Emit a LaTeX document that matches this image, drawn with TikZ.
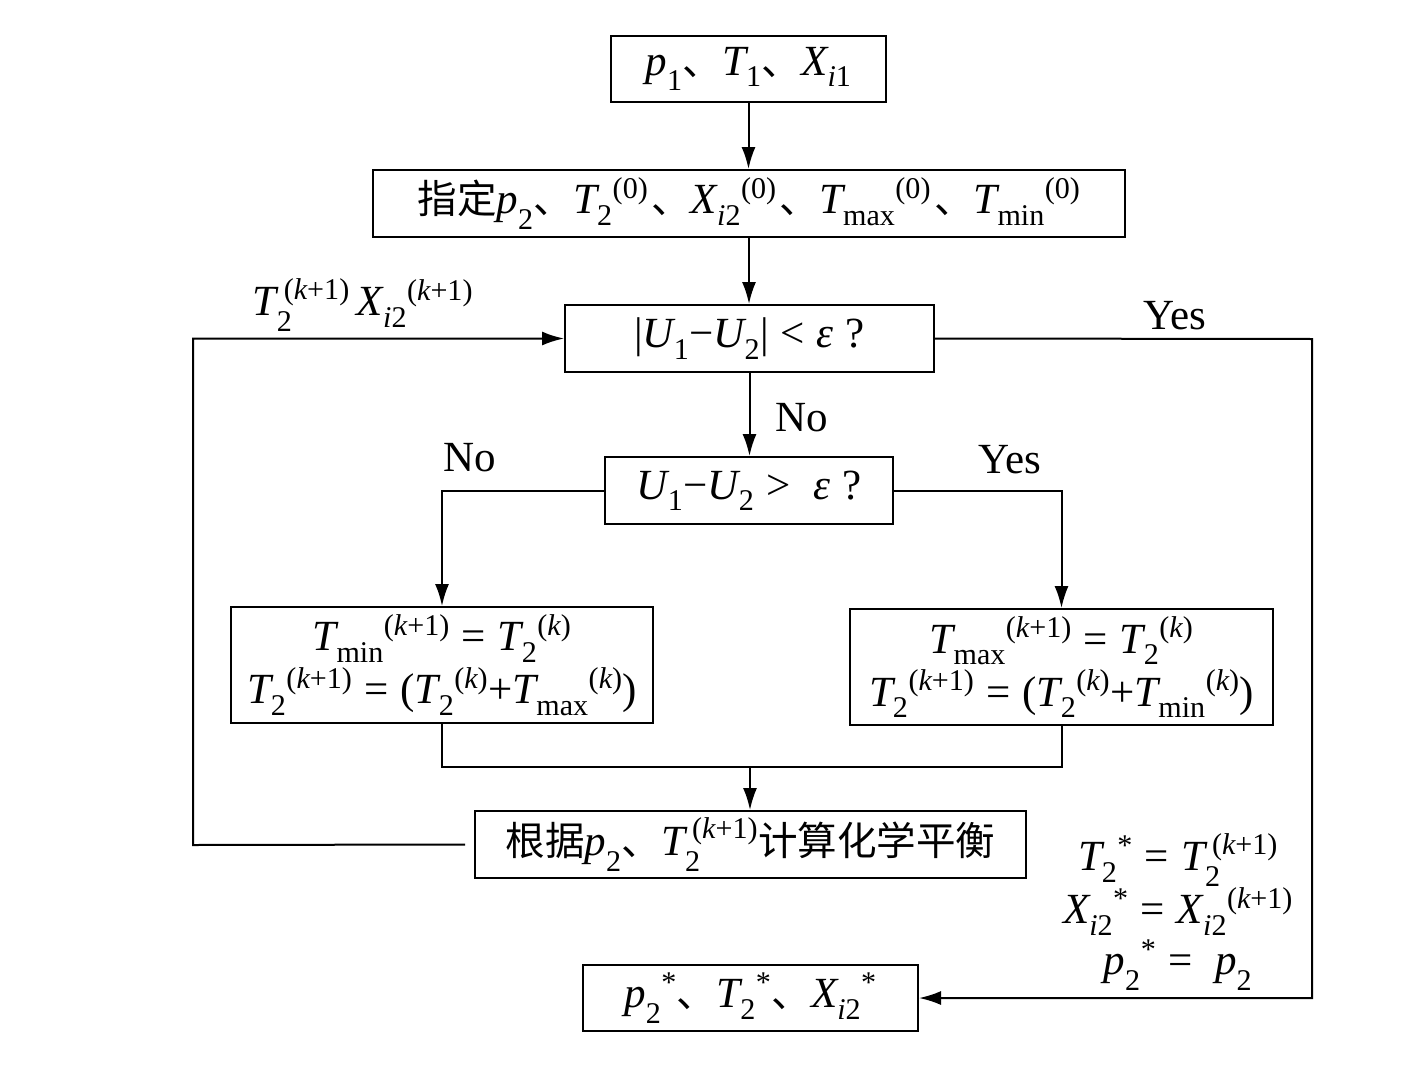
\RequirePackage{fix-cm}
\documentclass[tikz,border=0pt]{standalone}
\usepackage{amsmath}
\usepackage{fontspec}
\setmainfont{Liberation Serif}
\newfontfamily\cjk[Scale=0.92]{Noto Sans CJK SC}
\usetikzlibrary{arrows.meta}
\newcommand\vI[1]{\text{\itshape #1}}
\newcommand\vR[1]{\text{\upshape #1}}
\newcommand\SB[1]{_{\text{\raisebox{-5pt}{\upshape #1}}}}
\newcommand\kp{\vR{(}\vI{k}\vR{+1)}}
\newcommand\kk{\vR{(}\vI{k}\vR{)}}
\newcommand\dun{{\cjk 、}}
\newcommand\eq{\mathrel{\vR{=}}}
\newcommand\pl{\vR{+}}
\newcommand\mi{\vR{−}}
\newcommand\sk{\hspace{7pt}}
\begin{document}
\begin{tikzpicture}[x=1pt,y=-1pt,
  box/.style={draw,line width=2pt,inner sep=0pt,align=center,font=\fontsize{43}{53}\selectfont},
  conn/.style={line width=2pt},
  arr/.style={conn,-{Latex[length=22pt,width=14pt]}},
  lbl/.style={inner sep=0pt,align=center,font=\fontsize{43}{51}\selectfont}]
\useasboundingbox (0,0) rectangle (1426,1070);
\node[box,minimum width=275pt,minimum height=66pt] (n1) at (748.5,69)
  {$\vI{p}\SB{1}$\dun$\vI{T}\SB{1}$\dun$\vI{X}\SB{\textit{i}1}$};
\node[box,minimum width=752pt,minimum height=67pt] (n2) at (749,203.5)
  {{\cjk 指定}$\vI{p}\SB{2}$\dun$\vI{T}\SB{2}{}^{\vR{(0)}}$\hspace{3pt}\dun$\vI{X}\SB{\textit{i}2}{}^{\vR{(0)}}$\hspace{3pt}\dun$\vI{T}\SB{max}{}^{\vR{(0)}}$\hspace{3pt}\dun$\vI{T}\SB{min}{}^{\vR{(0)}}$};
\node[box,minimum width=369pt,minimum height=67pt] (n3) at (749.5,338.5)
  {$\vR{|}\vI{U}\SB{1}\mi\vI{U}\SB{2}\vR{|}\mathrel{\vR{<}}\vI{ε}\;\vR{?}$};
\node[box,minimum width=288pt,minimum height=67pt] (n4) at (749,490.5)
  {$\vI{U}\SB{1}\mi\vI{U}\SB{2}\mathrel{\vR{>}}\ \vI{ε}\;\vR{?}$};
\node[box,minimum width=422pt,minimum height=116pt] (n5) at (442,665)
  {$\vI{T}\SB{min}{}^{\kp}\eq\vI{T}\SB{2}{}^{\kk}$\\
   $\vI{T}\SB{2}{}^{\kp}\eq\vR{(}\vI{T}\SB{2}{}^{\kk}\pl\vI{T}\SB{max}{}^{\kk}\vR{)}$};
\node[box,minimum width=423pt,minimum height=116pt] (n6) at (1061.5,667)
  {$\vI{T}\SB{max}{}^{\kp}\eq\vI{T}\SB{2}{}^{\kk}$\\
   $\vI{T}\SB{2}{}^{\kp}\eq\vR{(}\vI{T}\SB{2}{}^{\kk}\pl\vI{T}\SB{min}{}^{\kk}\vR{)}$};
\node[box,minimum width=551pt,minimum height=67pt] (n7) at (750.5,844.5)
  {{\cjk 根据}$\vI{p}\SB{2}$\dun$\vI{T}\SB{2}^{\sk\kp}${\cjk 计算化学平衡}};
\node[box,minimum width=335pt,minimum height=66pt] (n8) at (750.5,998)
  {$\vI{p}\SB{2}{}^{\vR{*}}$\dun$\vI{T}\SB{2}{}^{\vR{*}}$\dun$\vI{X}\SB{\textit{i}2}{}^{\vR{*}}$};
% labels
\node[lbl] (lno1) at (802,418) {No};
\node[lbl] (lno2) at (470,458) {No};
\node[lbl] (lyes1) at (1010,460) {Yes};
\node[lbl] (lyes2) at (1175,316) {Yes};
\node[lbl] (lfb) at (363,305) {$\vI{T}\SB{2}^{\sk\kp}\,\vI{X}\SB{\textit{i}2}{}^{\kp}$};
\node[lbl] (lres) at (1178,912)
  {$\vI{T}\SB{2}{}^{\vR{*}}\eq\vI{T}\SB{2}^{\sk\kp}$\\
   $\vI{X}\SB{\textit{i}2}{}^{\vR{*}}\eq\vI{X}\SB{\textit{i}2}{}^{\kp}$\\
   $\vI{p}\SB{2}{}^{\vR{*}}\eq\ \vI{p}\SB{2}$};
% connectors
\draw[arr] (n1.south) -- (n1.south |- n2.north);
\draw[arr] (n2.south) -- (n2.south |- n3.north);
\draw[arr] (n3.south) -- (n3.south |- n4.north);
\draw[arr] (n4.west) -| (n5.north);
\draw[arr] (n4.east) -| (n6.north);
\coordinate (j) at (750,767);
\draw[conn] (n5.south) |- (n6.south |- j) -- (n6.south);
\draw[arr] (j) -- (j |- n7.north);
\coordinate (lc) at (193,845);
\draw[arr] (n7.west) ++(-9,0) -- (lc) |- (n3.west);
\coordinate (rc) at (1312,339);
\draw[arr] (n3.east) -- (rc) |- (n8.east);
\end{tikzpicture}
\end{document}
